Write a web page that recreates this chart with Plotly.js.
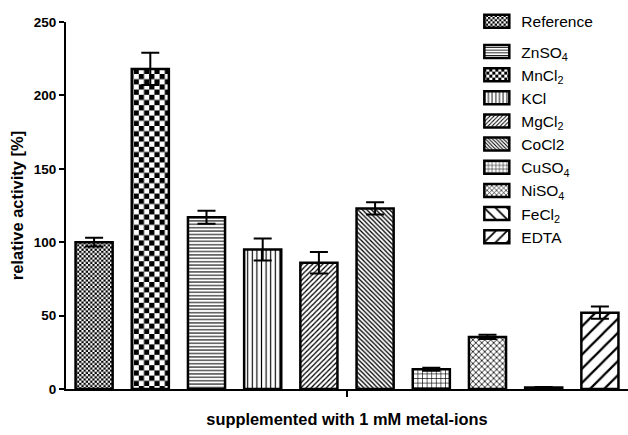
<!DOCTYPE html>
<html>
<head>
<meta charset="utf-8">
<script src="https://cdn.plot.ly/plotly-3.0.1.min.js"></script>
<style>html,body{margin:0;padding:0;background:#fff;}#chart{width:628px;height:435px;}</style>
</head>
<body>
<div id="chart"></div>
<script>
// ---- data ----
const categories = ["Reference", "MnCl<sub>2</sub>", "ZnSO<sub>4</sub>", "KCl", "MgCl<sub>2</sub>", "CoCl2", "CuSO<sub>4</sub>", "NiSO<sub>4</sub>", "FeCl<sub>2</sub>", "EDTA"];
const values = [100, 218, 117, 95, 86, 123, 13.5, 35.5, 1, 52];
const errors = [3, 11, 4.5, 7.5, 7.3, 4.2, 1, 1.5, 0.4, 4.2];
const legendOrder = [0, 2, 1, 3, 4, 5, 6, 7, 8, 9];
const patternShapes = [".", ".", "-", "|", "/", "\\", "+", "x", "\\", "/"];
const patternSizes = [4, 10, 3.4, 4.6, 3.6, 3.2, 4.6, 4.2, 10, 10];
const patternSolidity = [0.5, 0.5, 0.3, 0.25, 0.35, 0.4, 0.25, 0.35, 0.22, 0.22];
const yTickVals = [0, 50, 100, 150, 200, 250];

const traces = categories.map((name, i) => ({
  type: "bar",
  name: name,
  x: [i],
  y: [values[i]],
  width: 0.66,
  legendrank: legendOrder.indexOf(i) + 1,
  legendgroup: i === 0 ? "ref" : "metals",
  marker: {
    color: "white",
    line: {color: "black", width: 2.5},
    pattern: {shape: patternShapes[i], size: patternSizes[i], solidity: patternSolidity[i], fgcolor: "black", bgcolor: "white", fillmode: "replace"}
  },
  error_y: {type: "data", array: [errors[i]], visible: true, color: "black", thickness: 2, width: 9}
}));

const layout = {
  width: 628, height: 435,
  margin: {l: 66, r: 0, t: 22, b: 46},
  paper_bgcolor: "white", plot_bgcolor: "white",
  barmode: "overlay",
  font: {family: "Arial, 'Liberation Sans', sans-serif", color: "black"},
  showlegend: true,
  legend: {x: 0.739, y: 1.047, xanchor: "left", yanchor: "top", tracegroupgap: 7, maxheight: 420,
           font: {size: 15.5}, bgcolor: "rgba(0,0,0,0)", traceorder: "grouped"},
  xaxis: {
    range: [-0.5, 9.5], showgrid: false, zeroline: false,
    showline: true, linecolor: "black", linewidth: 2,
    tickmode: "array", tickvals: [4.5], ticktext: [""], ticks: "outside", ticklen: 6, tickwidth: 2, tickcolor: "black",
    showticklabels: false,
    title: {text: "supplemented with 1 mM metal-ions", font: {size: 16.4, weight: "bold"}, standoff: 18}
  },
  yaxis: {
    range: [0, 250], showgrid: false, zeroline: false,
    showline: true, linecolor: "black", linewidth: 2,
    tickmode: "array", tickvals: yTickVals, ticks: "outside", ticklen: 5, tickwidth: 2, tickcolor: "black",
    tickfont: {size: 13.5, weight: "bold"},
    title: {text: "relative activity [%]", font: {size: 16.5, weight: "bold"}, standoff: 6}
  }
};

const gd = document.getElementById("chart");
Plotly.newPlot(gd, traces, layout, {staticPlot: true}).then(() => {
  const NS = "http://www.w3.org/2000/svg";
  const defs = gd.querySelector("defs");
  function checker(id, cell) {
    const p = document.createElementNS(NS, "pattern");
    p.setAttribute("id", id);
    p.setAttribute("patternUnits", "userSpaceOnUse");
    p.setAttribute("width", 2 * cell);
    p.setAttribute("height", 2 * cell);
    const rects = [[0, 0, 2 * cell, 2 * cell, "white"], [0, 0, cell, cell, "black"], [cell, cell, cell, cell, "black"]];
    rects.forEach(r => {
      const e = document.createElementNS(NS, "rect");
      e.setAttribute("x", r[0]); e.setAttribute("y", r[1]);
      e.setAttribute("width", r[2]); e.setAttribute("height", r[3]);
      e.setAttribute("fill", r[4]);
      p.appendChild(e);
    });
    defs.appendChild(p);
  }
  checker("chkFine", 2.2);
  checker("chkCoarse", 5.2);
  checker("chkLegend", 3);
  const barTraces = gd.querySelectorAll(".barlayer .trace");
  if (barTraces[0]) barTraces[0].querySelectorAll("path").forEach(p => p.style.fill = "url(#chkFine)");
  if (barTraces[1]) barTraces[1].querySelectorAll("path").forEach(p => p.style.fill = "url(#chkCoarse)");
  gd.querySelectorAll(".legend .traces").forEach(t => {
    const txt = ((t.querySelector(".legendtext") || {}).textContent || "").replace(/[\u200b\s]/g, "");
    const sym = t.querySelector(".legendpoints path");
    if (!sym) return;
    sym.setAttribute("d", "M8,6.5H-17V-6.5H8Z");
    sym.style.strokeWidth = "2.5px";
    if (txt.indexOf("Reference") === 0) sym.style.fill = "url(#chkFine)";
    if (txt.indexOf("MnCl") === 0) sym.style.fill = "url(#chkLegend)";
  });
});
</script>
</body>
</html>
